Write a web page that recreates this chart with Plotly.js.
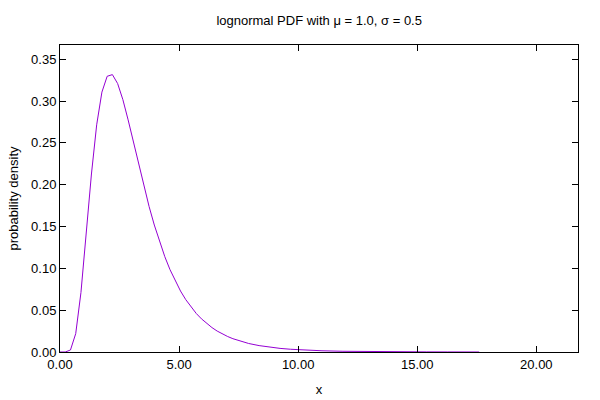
<!DOCTYPE html>
<html>
<head>
<meta charset="utf-8">
<script src="https://cdn.plot.ly/plotly-3.0.1.min.js"></script>
<style>html,body{margin:0;padding:0;background:#fff;}#chart{width:600px;height:400px;}</style>
</head>
<body>
<div id="chart"></div>
<script>
// values
const xValues = [0, 0.22, 0.44, 0.66, 0.88, 1.10, 1.32, 1.54, 1.76, 1.98, 2.20, 2.42, 2.64, 2.86, 3.08, 3.30, 3.52, 3.74, 3.96, 4.18, 4.40, 4.62, 4.84, 5.06, 5.28, 5.50, 5.72, 5.94, 6.16, 6.38, 6.60, 6.82, 7.04, 7.26, 7.48, 7.70, 7.92, 8.36, 8.80, 9.24, 9.68, 10.12, 10.56, 11.00, 11.88, 12.76, 13.64, 14.52, 15.40, 16.28, 17.16, 17.60];
const densityValues = [0, 0.00001, 0.0024, 0.0220, 0.0712, 0.1412, 0.2128, 0.2716, 0.3107, 0.3296, 0.3316, 0.3209, 0.3017, 0.2775, 0.2511, 0.2243, 0.1983, 0.1740, 0.1518, 0.1318, 0.1140, 0.0984, 0.0847, 0.0729, 0.0626, 0.0537, 0.0461, 0.0396, 0.0340, 0.0292, 0.0250, 0.0215, 0.0185, 0.0159, 0.0137, 0.0119, 0.0102, 0.00765, 0.00574, 0.00433, 0.00327, 0.00249, 0.00190, 0.00146, 0.00087, 0.00052, 0.00032, 0.00020, 0.00013, 0.00008, 0.00005, 0.00004];
const xTicks = [0, 5, 10, 15, 20];
const yTicks = [0, 0.05, 0.10, 0.15, 0.20, 0.25, 0.30, 0.35];

const font = {family: 'Liberation Sans, Arial, sans-serif', size: 13, color: '#000'};

const axisCommon = {
  showgrid: false, zeroline: false, showline: true, linecolor: '#000', linewidth: 1,
  mirror: 'ticks', ticks: 'inside', ticklen: 6, tickcolor: '#000', tickwidth: 1,
  tickformat: '.2f', tickfont: font
};

Plotly.newPlot('chart', [{
  x: xValues, y: densityValues, type: 'scatter', mode: 'lines',
  line: {color: '#9400d3', width: 1}, hoverinfo: 'none'
}], {
  width: 600, height: 400,
  margin: {l: 60, r: 22, t: 45, b: 48, pad: 0},
  paper_bgcolor: '#fff', plot_bgcolor: '#fff',
  showlegend: false,
  font: font,
  title: {text: 'lognormal PDF with μ = 1.0, σ = 0.5', font: font, x: 0.532, xanchor: 'center', y: 0.95, yanchor: 'middle'},
  xaxis: Object.assign({}, axisCommon, {
    range: [0, 21.75], tickvals: xTicks,
    title: {text: 'x', font: font, standoff: 14}
  }),
  yaxis: Object.assign({}, axisCommon, {
    range: [0, 0.367], tickvals: yTicks,
    title: {text: 'probability density', font: font, standoff: 9}
  })
}, {displayModeBar: false, staticPlot: true});
</script>
</body>
</html>
